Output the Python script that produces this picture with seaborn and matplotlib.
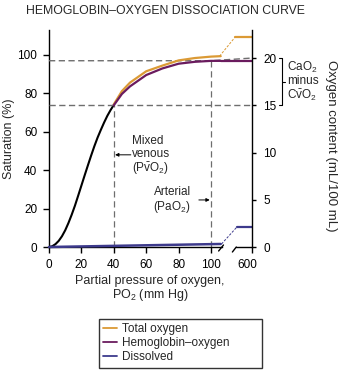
import numpy as np
import pandas as pd
import matplotlib
matplotlib.use("Agg")
import matplotlib.pyplot as plt
import matplotlib.transforms as mtransforms
from matplotlib.lines import Line2D
import seaborn as sns

# ---------------- data ----------------
po2_sat = [0, 2, 4, 6, 8, 10, 12, 14, 16, 18, 20, 22, 24, 26, 28, 30, 32, 34, 36, 38, 40]
saturation = [0, 0.4, 1.5, 3.2, 5.6, 8.7, 12.5, 16.8, 21.5, 26.7, 32.0, 37.3, 42.5,
              47.6, 52.5, 57.0, 61.0, 64.8, 68.3, 71.3, 74.0]

po2_upper = [40, 45, 50, 60, 70, 80, 90, 100, 106]
hb_content = [15.0, 16.2, 17.0, 18.2, 18.9, 19.4, 19.6, 19.7, 19.7]
total_content = [15.1, 16.5, 17.4, 18.6, 19.2, 19.75, 20.0, 20.15, 20.2]

po2_dissolved = [0, 106]
dissolved_content = [0.0, 0.32]

series_names = ["Total oxygen", "Hemoglobin\u2013oxygen", "Dissolved"]
content_at_600 = [22.2, 19.7, 2.1]

venous_po2, venous_sat = 40, 74.0
arterial_po2, arterial_sat = 100, 97.0
cao2, cvo2 = 20.0, 15.0

x_ticks = [0, 20, 40, 60, 80, 100]
y_ticks = [0, 20, 40, 60, 80, 100]
y2_ticks = [0, 5, 10, 15, 20]

# ---------------- style ----------------
sns.set_style("ticks")
plt.rcParams["font.family"] = ["Liberation Sans", "DejaVu Sans"]
plt.rcParams["mathtext.fontset"] = "custom"
plt.rcParams["mathtext.rm"] = "Liberation Sans"
plt.rcParams["mathtext.it"] = "Liberation Sans:italic"
plt.rcParams["mathtext.bf"] = "Liberation Sans:bold"

C_TOTAL = "#DB9A35"
C_HB = "#6A1B5E"
C_DIS = "#3D3A8C"
C_DASH = "#6E6E6E"
FS = 8.5

# broken x-axis layout (plot positions)
X_MAX = 125.3
X_BREAK_L = 106.5
X_BREAK_R = 115.6
X_600 = X_MAX
RATIO = 4.92  # % saturation per mL/100 mL on the twin axis
Y_TOP = 113.0

fig = plt.figure(figsize=(3.42, 3.70), dpi=100)
ax = fig.add_axes([49 / 342, 1 - 247 / 370, 203 / 342, 217 / 370])
ax2 = ax.twinx()

ax.set_xlim(0, X_MAX)
ax.set_ylim(0, Y_TOP)
ax2.set_ylim(0, Y_TOP / RATIO)

# reference dashed lines
dash = dict(color=C_DASH, lw=1.0, dashes=(4.5, 2.5), zorder=1)
ax2.plot([0, arterial_po2, X_MAX], [arterial_sat / RATIO, arterial_sat / RATIO, cao2], **dash)
ax2.plot([0, X_MAX], [cvo2, cvo2], **dash)
vdash = dict(color=C_DASH, lw=0.9, dashes=(5, 3), zorder=1)
ax.plot([venous_po2, venous_po2], [0, venous_sat], **vdash)
ax.plot([arterial_po2, arterial_po2], [0, arterial_sat], **vdash)

# saturation curve (black)
df_sat = pd.DataFrame({"po2": po2_sat, "sat": saturation})
sns.lineplot(data=df_sat, x="po2", y="sat", ax=ax, color="black", lw=1.5,
             estimator=None, sort=False, zorder=3)

# content curves on twin axis
df_up = pd.DataFrame({
    "po2": po2_upper * 2,
    "content": total_content + hb_content,
    "series": [series_names[0]] * len(po2_upper) + [series_names[1]] * len(po2_upper),
})
sns.lineplot(data=df_up, x="po2", y="content", hue="series", ax=ax2,
             palette={series_names[0]: C_TOTAL, series_names[1]: C_HB},
             lw=1.6, estimator=None, sort=False, legend=False, zorder=3)
df_dis = pd.DataFrame({"po2": po2_dissolved, "content": dissolved_content})
sns.lineplot(data=df_dis, x="po2", y="content", ax=ax2, color=C_DIS, lw=1.8,
             estimator=None, sort=False, legend=False, zorder=4)
for l in ax2.lines[-3:]:
    l.set_clip_on(False)

# segments after the axis break (values at 600 mm Hg)
thin = dict(lw=0.7, dashes=(2.5, 1.5))
ax2.plot([po2_upper[-1] - 0.7, X_BREAK_R - 0.8], [total_content[-1], content_at_600[0]], color=C_TOTAL, **thin)
ax2.plot([X_BREAK_R - 0.8, X_600], [content_at_600[0], content_at_600[0]], color=C_TOTAL, lw=1.6)
ax2.plot([po2_upper[-1], X_600], [hb_content[-1], content_at_600[1]], color=C_HB, lw=1.6)
ax2.plot([po2_dissolved[-1] + 0.5, X_BREAK_R + 0.3], [dissolved_content[-1], content_at_600[2]], color=C_DIS, **thin)
ax2.plot([X_BREAK_R + 0.3, X_600], [content_at_600[2], content_at_600[2]], color=C_DIS, lw=1.6)

# spines
for s in ["top", "right"]:
    ax.spines[s].set_visible(False)
for s in ["top", "left", "bottom"]:
    ax2.spines[s].set_visible(False)
for a in (ax, ax2):
    for s in a.spines.values():
        s.set_color("black")
        s.set_linewidth(1.0)
ax.spines["bottom"].set_bounds(0, X_BREAK_L)
bl = mtransforms.blended_transform_factory(ax.transData, ax.transAxes)
px = 1 / 217.0
ax.plot([X_BREAK_R, X_MAX], [0, 0], color="black", lw=1.0, transform=bl, clip_on=False)
ax.plot([X_BREAK_L - 1.8, X_BREAK_L + 1.2], [-4 * px, 2 * px], color="black", lw=1.0, transform=bl, clip_on=False)
ax.plot([X_BREAK_R - 2.4, X_BREAK_R], [-5 * px, 0], color="black", lw=1.0, transform=bl, clip_on=False)

# ticks
ax.set_xticks(x_ticks + [X_600])
ax.set_xticklabels([str(t) for t in x_ticks] + ["600"])
ax.set_yticks(y_ticks)
ax.set_yticklabels([str(t) for t in y_ticks])
ax2.set_yticks(y2_ticks)
ax2.set_yticklabels([str(t) for t in y2_ticks])
ax.tick_params(axis="x", length=4, width=1.0, pad=5, labelsize=FS, colors="black")
ax.tick_params(axis="y", length=4, width=1.0, pad=4.5, labelsize=FS, colors="black")
ax2.tick_params(axis="y", length=3, width=1.0, pad=5, labelsize=FS, colors="black")
lbl600 = ax.get_xticklabels()[-1]
lbl600.set_transform(lbl600.get_transform() + mtransforms.ScaledTranslation(-5 / 100, 0, fig.dpi_scale_trans))
ax.set_xlabel("")
ax.set_ylabel("")
ax2.set_ylabel("")

# labels / title
fig.text(165.5 / 342, 1 - 11 / 370, "HEMOGLOBIN\u2013OXYGEN DISSOCIATION CURVE",
         ha="center", va="center", fontsize=8.8)
fig.text(9 / 342, 1 - 139 / 370, "Saturation (%)", rotation=90,
         ha="center", va="center", fontsize=9)
fig.text(331 / 342, 1 - 146 / 370, "Oxygen content (mL/100 mL)", rotation=270,
         ha="center", va="center", fontsize=9.5)
fig.text(150 / 342, 1 - 289 / 370, "Partial pressure of oxygen,\nPO$_2$ (mm Hg)",
         ha="center", va="center", fontsize=9, linespacing=1.05)

# annotations
ax.text(51.5, 47.5, "Mixed\nvenous\n(P$\\bar{\\mathrm{v}}$O$_2$)", ha="left", va="center",
        fontsize=FS, linespacing=1.1)
ax.annotate("", xy=(venous_po2 + 0.8, 48.0), xytext=(50.5, 48.0),
            arrowprops=dict(arrowstyle="-|>", lw=0.7, color="black", mutation_scale=5,
                            shrinkA=0, shrinkB=0))
ax.text(76, 24.0, "Arterial\n(PaO$_2$)", ha="center", va="center", fontsize=FS, linespacing=1.1)
ax.annotate("", xy=(arterial_po2 - 0.8, 24.5), xytext=(92.5, 24.5),
            arrowprops=dict(arrowstyle="-|>", lw=0.7, color="black", mutation_scale=5,
                            shrinkA=0, shrinkB=0))

# bracket CaO2 minus CvO2
br = mtransforms.blended_transform_factory(ax2.transAxes, ax2.transData)
xb = (281.7 - 49) / 203
xl = (278.5 - 49) / 203
xr = (284.5 - 49) / 203
ax2.plot([xl, xb, xb, xl], [cao2, cao2, cvo2, cvo2], color="black", lw=0.8,
         transform=br, clip_on=False)
ax2.plot([xb, xr], [(cao2 + cvo2) / 2] * 2, color="black", lw=0.8, transform=br, clip_on=False)
ax2.text((287 - 49) / 203, (cao2 + cvo2) / 2, "CaO$_2$\nminus\nC$\\bar{\\mathrm{v}}$O$_2$",
         transform=br, ha="left", va="center", fontsize=FS, linespacing=1.0)

# legend
handles = [Line2D([], [], color=c, lw=1.3) for c in (C_TOTAL, C_HB, C_DIS)]
leg = fig.legend(handles, series_names, loc="upper left",
                 bbox_to_anchor=(99 / 342, 1 - 319 / 370, 163 / 342, 0.001),
                 mode="expand", borderaxespad=0, fontsize=FS, frameon=True,
                 fancybox=False, handlelength=1.2, handletextpad=0.4,
                 labelspacing=0.2, borderpad=0.35)
leg.get_frame().set_edgecolor("black")
leg.get_frame().set_linewidth(1.0)

fig.savefig("out.png", dpi=100)
